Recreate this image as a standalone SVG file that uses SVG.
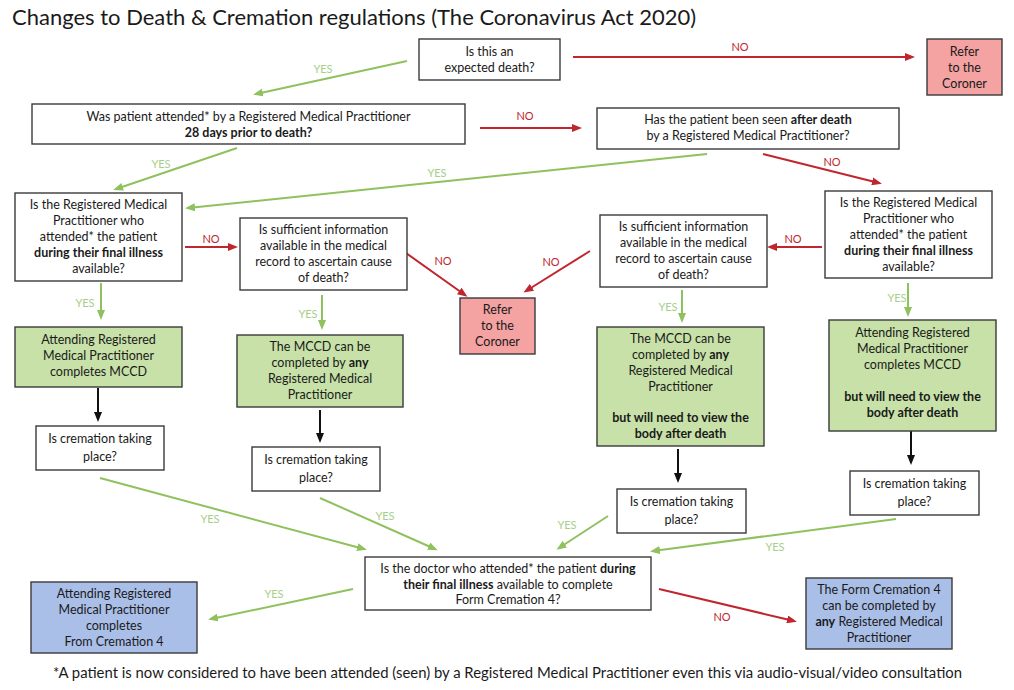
<svg xmlns="http://www.w3.org/2000/svg" width="1014" height="690" viewBox="0 0 1014 690">
<style>
text{font-family:Lato,"Open Sans","Liberation Sans",sans-serif;fill:#1a1a1a}
.t{font-size:12.5px;text-anchor:middle}
.b{font-weight:bold}
.box{fill:#fff;stroke:#3a3a3a;stroke-width:1.4}
.pink{fill:#f4a2a2;stroke:#3a3a3a;stroke-width:1.4}
.green{fill:#c7e1a8;stroke:#3a3a3a;stroke-width:1.4}
.blue{fill:#aabfe8;stroke:#3a3a3a;stroke-width:1.4}
.y{stroke:#8fc15e;stroke-width:2;fill:none;marker-end:url(#ag)}
.n{stroke:#c0262d;stroke-width:2;fill:none;marker-end:url(#ar)}
.k{stroke:#111;stroke-width:2;fill:none;marker-end:url(#ak)}
.yl{font-size:11px;fill:#a6d088;text-anchor:middle}
.nl{font-size:11px;fill:#c0262d;text-anchor:middle}
</style>
<defs>
<marker id="ag" markerUnits="userSpaceOnUse" markerWidth="10" markerHeight="8" refX="7" refY="4" orient="auto"><path d="M0,0 L10,4 L0,8 z" fill="#8fc15e"/></marker>
<marker id="ar" markerUnits="userSpaceOnUse" markerWidth="10" markerHeight="8" refX="7" refY="4" orient="auto"><path d="M0,0 L10,4 L0,8 z" fill="#c0262d"/></marker>
<marker id="ak" markerUnits="userSpaceOnUse" markerWidth="10" markerHeight="8" refX="7" refY="4" orient="auto"><path d="M0,0 L10,4 L0,8 z" fill="#111"/></marker>
</defs>
<rect width="1014" height="690" fill="#fff"/>
<text x="12" y="25" style="font-size:22px">Changes to Death &amp; Cremation regulations (The Coronavirus Act 2020)</text>

<g id="connectors">
<line class="y" x1="407" y1="61" x2="256" y2="94"/><text class="yl" x="323" y="73">YES</text>
<line class="n" x1="573" y1="57" x2="912" y2="57"/><text class="nl" x="740" y="51">NO</text>
<line class="n" x1="480" y1="128" x2="579" y2="128"/><text class="nl" x="525" y="120">NO</text>
<line class="y" x1="237" y1="148" x2="116" y2="189"/><text class="yl" x="161" y="168">YES</text>
<line class="y" x1="707" y1="154" x2="188" y2="208"/><text class="yl" x="437" y="177">YES</text>
<line class="n" x1="763" y1="154" x2="879" y2="183"/><text class="nl" x="832" y="166">NO</text>
<line class="n" x1="185" y1="247" x2="235" y2="247"/><text class="nl" x="211" y="243">NO</text>
<line class="n" x1="822" y1="247" x2="770" y2="247"/><text class="nl" x="793" y="243">NO</text>
<line class="n" x1="406" y1="253" x2="465" y2="295"/><text class="nl" x="443" y="265">NO</text>
<line class="n" x1="590" y1="251" x2="526" y2="291"/><text class="nl" x="551" y="266">NO</text>
<line class="y" x1="101" y1="283" x2="101" y2="317"/><text class="yl" x="85" y="307">YES</text>
<line class="y" x1="322" y1="295" x2="322" y2="327"/><text class="yl" x="308" y="318">YES</text>
<line class="y" x1="682" y1="290" x2="682" y2="320"/><text class="yl" x="668" y="311">YES</text>
<line class="y" x1="908" y1="283" x2="908" y2="314"/><text class="yl" x="897" y="302">YES</text>
<line class="k" x1="98" y1="388" x2="98" y2="419"/>
<line class="k" x1="320" y1="410" x2="320" y2="440"/>
<line class="k" x1="678" y1="449" x2="678" y2="480"/>
<line class="k" x1="911" y1="431" x2="911" y2="462"/>
<line class="y" x1="100" y1="478" x2="364" y2="549"/><text class="yl" x="210" y="523">YES</text>
<line class="y" x1="320" y1="498" x2="435" y2="549"/><text class="yl" x="385" y="520">YES</text>
<line class="y" x1="608" y1="516" x2="559" y2="548"/><text class="yl" x="567" y="529">YES</text>
<line class="y" x1="896" y1="519" x2="653" y2="551"/><text class="yl" x="775" y="551">YES</text>
<line class="y" x1="353" y1="589" x2="211" y2="619"/><text class="yl" x="274" y="598">YES</text>
<line class="n" x1="659" y1="589" x2="794" y2="621"/><text class="nl" x="722" y="621">NO</text>
</g>

<g id="q-expected"><rect class="box" x="419" y="39" width="141" height="41"/>
<text class="t" x="489.5" y="56">Is this an</text><text class="t" x="489.5" y="72">expected death?</text></g>

<g id="coroner-top"><rect class="pink" x="927" y="39" width="75" height="56"/>
<text class="t" x="964.5" y="56">Refer</text><text class="t" x="964.5" y="72">to the</text><text class="t" x="964.5" y="88">Coroner</text></g>

<g id="q-28days"><rect class="box" x="32" y="104" width="433" height="40"/>
<text class="t" x="248.5" y="121">Was patient attended* by a Registered Medical Practitioner</text>
<text class="t b" x="248.5" y="137">28 days prior to death?</text></g>

<g id="q-seen-after"><rect class="box" x="597" y="108" width="302" height="41"/>
<text class="t" x="748" y="124">Has the patient been seen <tspan class="b">after death</tspan></text>
<text class="t" x="748" y="140">by a Registered Medical Practitioner?</text></g>

<g id="q-rmp-left"><rect class="box" x="15" y="193" width="167" height="88"/>
<text class="t" x="98.5" y="209">Is the Registered Medical</text>
<text class="t" x="98.5" y="225">Practitioner who</text>
<text class="t" x="98.5" y="241">attended* the patient</text>
<text class="t b" x="98.5" y="257">during their final illness</text>
<text class="t" x="98.5" y="273">available?</text></g>

<g id="q-info-left"><rect class="box" x="240" y="218" width="167" height="72"/>
<text class="t" x="323.5" y="234">Is sufficient information</text>
<text class="t" x="323.5" y="250">available in the medical</text>
<text class="t" x="323.5" y="266">record to ascertain cause</text>
<text class="t" x="323.5" y="282">of death?</text></g>

<g id="coroner-mid"><rect class="pink" x="460" y="298" width="75" height="56"/>
<text class="t" x="497.5" y="314">Refer</text><text class="t" x="497.5" y="330">to the</text><text class="t" x="497.5" y="346">Coroner</text></g>

<g id="q-info-right"><rect class="box" x="600" y="215" width="167" height="72"/>
<text class="t" x="683.5" y="231">Is sufficient information</text>
<text class="t" x="683.5" y="247">available in the medical</text>
<text class="t" x="683.5" y="263">record to ascertain cause</text>
<text class="t" x="683.5" y="279">of death?</text></g>

<g id="q-rmp-right"><rect class="box" x="825" y="191" width="167" height="87"/>
<text class="t" x="908.5" y="207">Is the Registered Medical</text>
<text class="t" x="908.5" y="223">Practitioner who</text>
<text class="t" x="908.5" y="239">attended* the patient</text>
<text class="t b" x="908.5" y="255">during their final illness</text>
<text class="t" x="908.5" y="271">available?</text></g>

<g id="mccd-attending-left"><rect class="green" x="15" y="327" width="167" height="60"/>
<text class="t" x="98.5" y="344">Attending Registered</text>
<text class="t" x="98.5" y="360">Medical Practitioner</text>
<text class="t" x="98.5" y="376">completes MCCD</text></g>

<g id="mccd-any-left"><rect class="green" x="237" y="335" width="166" height="72"/>
<text class="t" x="320" y="351">The MCCD can be</text>
<text class="t" x="320" y="367">completed by <tspan class="b">any</tspan></text>
<text class="t" x="320" y="383">Registered Medical</text>
<text class="t" x="320" y="399">Practitioner</text></g>

<g id="mccd-any-right"><rect class="green" x="597" y="327" width="167" height="119"/>
<text class="t" x="680.5" y="343">The MCCD can be</text>
<text class="t" x="680.5" y="359">completed by <tspan class="b">any</tspan></text>
<text class="t" x="680.5" y="375">Registered Medical</text>
<text class="t" x="680.5" y="391">Practitioner</text>
<text class="t b" x="680.5" y="422">but will need to view the</text>
<text class="t b" x="680.5" y="438">body after death</text></g>

<g id="mccd-attending-right"><rect class="green" x="829" y="320" width="167" height="111"/>
<text class="t" x="912.5" y="337">Attending Registered</text>
<text class="t" x="912.5" y="353">Medical Practitioner</text>
<text class="t" x="912.5" y="369">completes MCCD</text>
<text class="t b" x="912.5" y="401">but will need to view the</text>
<text class="t b" x="912.5" y="417">body after death</text></g>

<g id="cremation-1"><rect class="box" x="36" y="426" width="128" height="44"/>
<text class="t" x="100" y="443">Is cremation taking</text><text class="t" x="100" y="461">place?</text></g>
<g id="cremation-2"><rect class="box" x="252" y="447" width="128" height="44"/>
<text class="t" x="316" y="464">Is cremation taking</text><text class="t" x="316" y="482">place?</text></g>
<g id="cremation-3"><rect class="box" x="617" y="489" width="129" height="44"/>
<text class="t" x="681.5" y="506">Is cremation taking</text><text class="t" x="681.5" y="524">place?</text></g>
<g id="cremation-4"><rect class="box" x="850" y="471" width="129" height="44"/>
<text class="t" x="914.5" y="488">Is cremation taking</text><text class="t" x="914.5" y="506">place?</text></g>

<g id="q-doctor-form4"><rect class="box" x="365" y="557" width="286" height="53"/>
<text class="t" x="508" y="573">Is the doctor who attended* the patient <tspan class="b">during</tspan></text>
<text class="t" x="508" y="589"><tspan class="b">their final illness</tspan> available to complete</text>
<text class="t" x="508" y="604">Form Cremation 4?</text></g>

<g id="form4-attending"><rect class="blue" x="31" y="582" width="166" height="71"/>
<text class="t" x="114" y="598">Attending Registered</text>
<text class="t" x="114" y="614">Medical Practitioner</text>
<text class="t" x="114" y="630">completes</text>
<text class="t" x="114" y="646">From Cremation 4</text></g>

<g id="form4-any"><rect class="blue" x="806" y="578" width="146" height="71"/>
<text class="t" x="879" y="594">The Form Cremation 4</text>
<text class="t" x="879" y="610">can be completed by</text>
<text class="t" x="879" y="626"><tspan class="b">any</tspan> Registered Medical</text>
<text class="t" x="879" y="642">Practitioner</text></g>

<text x="53" y="678" style="font-size:14.9px" textLength="909" lengthAdjust="spacingAndGlyphs">*A patient is now considered to have been attended (seen) by a Registered Medical Practitioner even this via audio-visual/video consultation</text>
</svg>
